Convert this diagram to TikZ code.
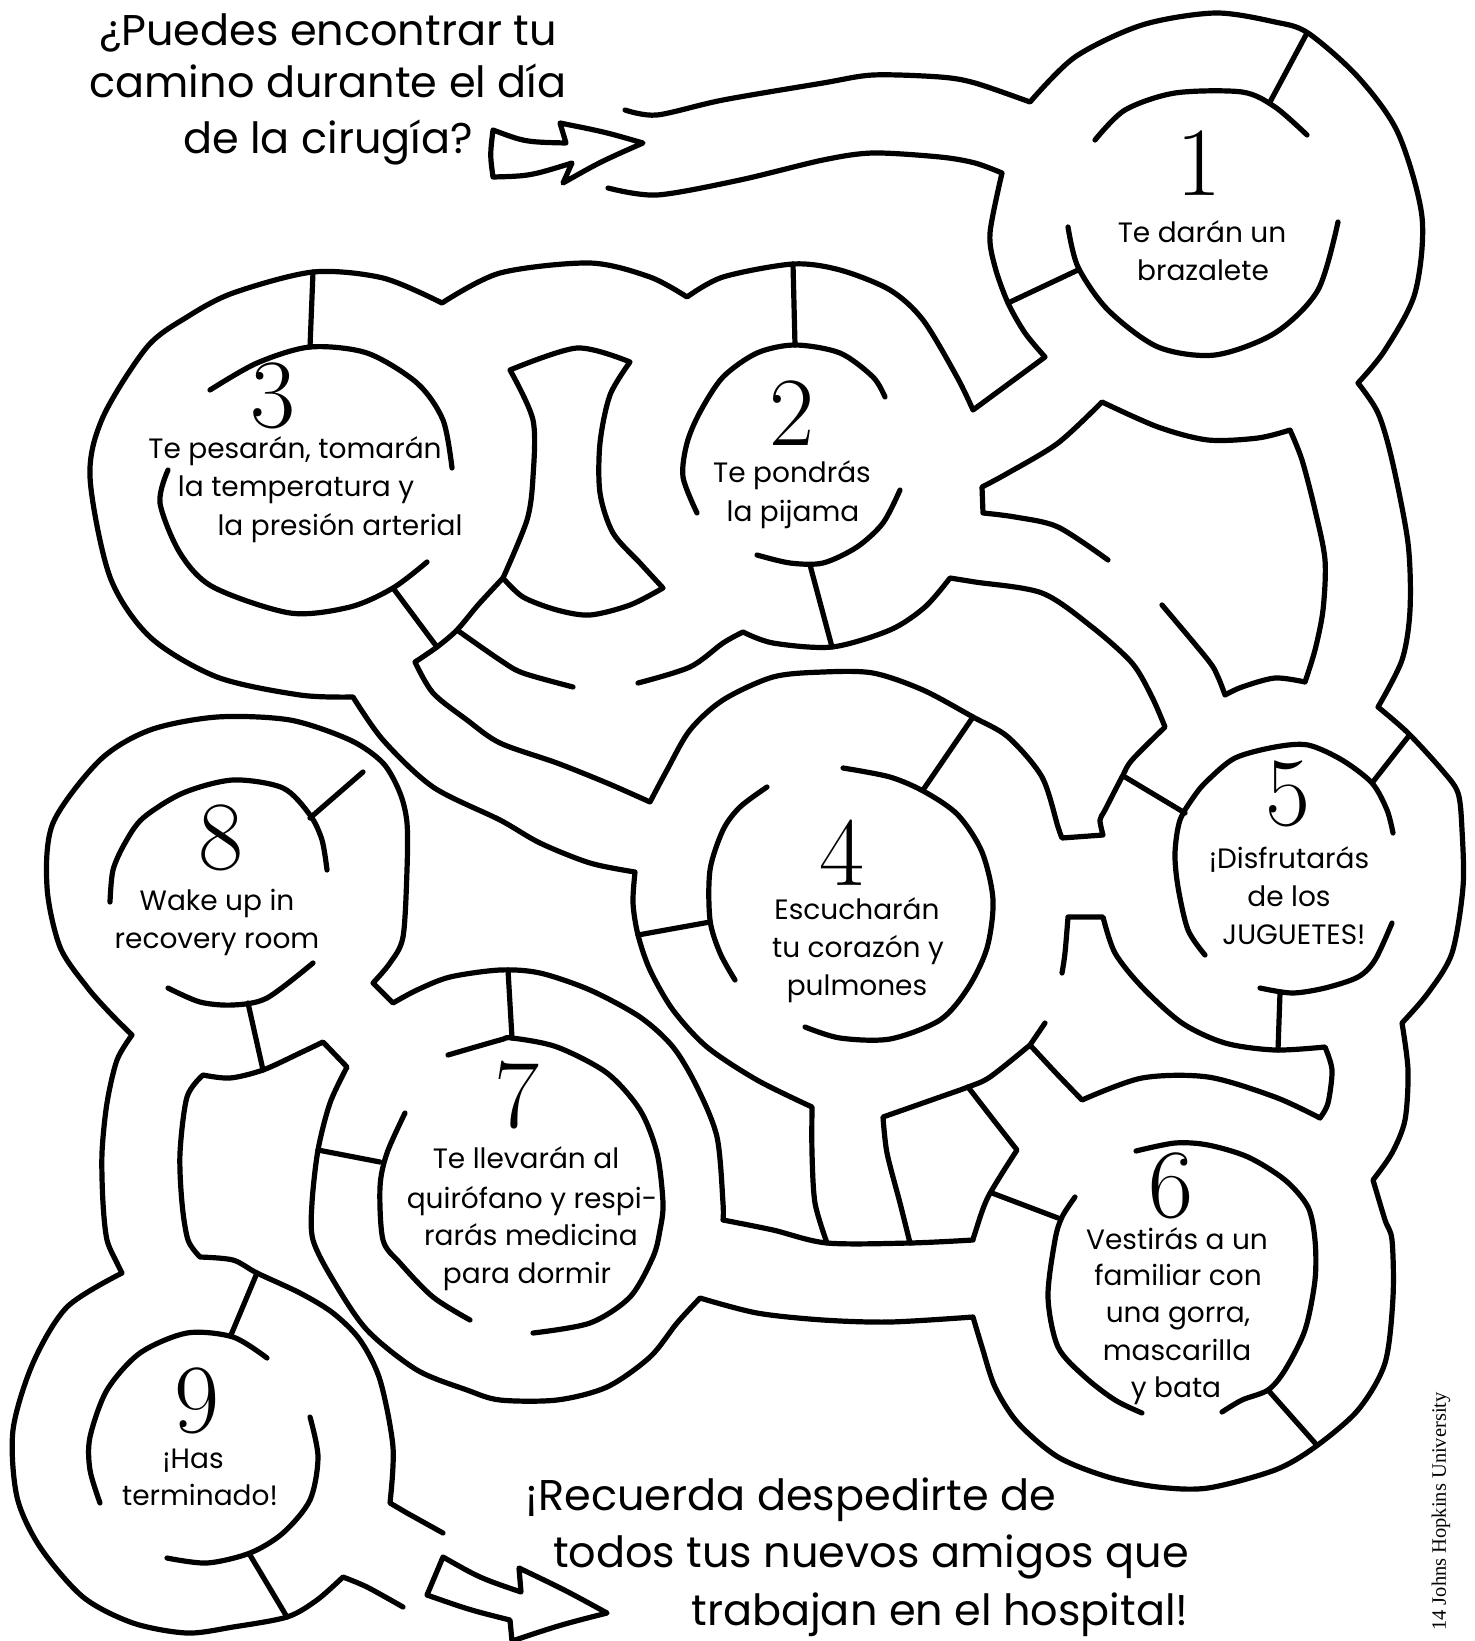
\documentclass[tikz,border=0pt]{standalone}
\usepackage{fontspec}
\newfontfamily\popfont{Poppins}
\newfontfamily\serfont{Liberation Serif}
\begin{document}
\begin{tikzpicture}[x=1pt,y=-1pt,
  wall/.style={line width=5.2pt,line cap=round,line join=round},
  big/.style={font=\popfont\fontsize{43}{50}\selectfont,inner sep=0pt,anchor=base},
  lbl/.style={font=\popfont\fontsize{28}{34}\selectfont,inner sep=0pt,anchor=base},
  num/.style={font=\rmfamily\fontsize{98}{100}\selectfont,inner sep=0pt,anchor=base}]
\fill[white] (0,0) rectangle (1475,1641);
\useasboundingbox (0,0) rectangle (1475,1641);
\begin{scope}
\clip (0,0) rectangle (1475,1641);

% P1
\draw[wall] plot[smooth] coordinates {(625,110) (657,115) (723,100) (823,83) (873,75) (940,77) (975,83) (1030,102)}
 --plot[smooth] coordinates {(1030,102) (1075,57) (1142,25) (1215,13) (1275,22) (1308,33) (1358,77) (1398,133) (1422,217) (1415,293) (1385,350) (1358,383)}
 --plot[smooth] coordinates {(1358,383) (1378,413) (1392,460) (1408,543) (1410,610) (1402,660) (1378,707)}
 --plot[smooth] coordinates {(1378,707) (1408,733) (1442,770) (1458,793) (1462,830) (1463,887) (1452,953) (1428,993) (1402,1023)}
 --plot[smooth] coordinates {(1402,1023) (1408,1070) (1405,1120) (1392,1153) (1373,1180)}
 --plot[smooth] coordinates {(1373,1180) (1385,1220) (1392,1240) (1393,1297) (1385,1363) (1358,1410) (1315,1447) (1275,1470) (1208,1488) (1158,1487) (1108,1477) (1058,1457) (1018,1423) (995,1387) (982,1347) (973,1317)}
 --plot[smooth] coordinates {(973,1317) (890,1322) (823,1320) (757,1313) (700,1298)}
 --plot[smooth] coordinates {(700,1298) (677,1323) (650,1357) (607,1387) (557,1400) (500,1400) (467,1390) (417,1370) (367,1330) (333,1280) (313,1240) (312,1203) (318,1150) (330,1103) (347,1067)}
 -- (323,1042)
 --plot[smooth] coordinates {(323,1042) (300,1053) (263,1070) (230,1078) (203,1075)}
 --plot[smooth] coordinates {(203,1075) (187,1097) (180,1153) (182,1203) (188,1240) (200,1257)}
 --plot[smooth] coordinates {(200,1257) (233,1260) (257,1273) (300,1293) (333,1313) (360,1340) (380,1380) (393,1447) (390,1503)}
 -- (407,1513) -- (443,1533);

% P2
\draw[wall] plot[smooth] coordinates {(608,188) (657,195) (740,180) (823,160) (873,153) (940,157) (975,163) (1002,173)}
 --plot[smooth] coordinates {(1002,173) (990,233) (995,267) (1008,303) (1025,333) (1045,357)}
 -- (973,410)
 --plot[smooth] coordinates {(973,410) (957,377) (923,320) (890,290) (840,270) (793,264) (723,277) (687,297)}
 --plot[smooth] coordinates {(687,297) (650,277) (590,263) (500,273) (442,303)}
 --plot[smooth] coordinates {(442,303) (383,278) (313,272) (233,293) (187,317) (147,347) (103,417) (90,477) (110,577) (150,637) (217,677) (300,695) (353,697)}
 --plot[smooth] coordinates {(353,697) (383,740) (433,787) (500,820) (540,843) (590,863) (635,872)}
 --plot[smooth] coordinates {(635,872) (633,903) (638,935) (650,970) (673,1010) (707,1047) (757,1080) (812,1107)}
 --plot[smooth] coordinates {(812,1107) (812,1153) (815,1203) (827,1243)};

% P3
\draw[wall] plot[smooth] coordinates {(968,1087) (992,1118) (1017,1150)}
 --plot[smooth] coordinates {(1017,1150) (988,1197) (975,1233) (973,1240)}
 --plot[smooth] coordinates {(973,1240) (910,1243) (827,1243) (773,1230) (723,1220)}
 --plot[smooth] coordinates {(723,1220) (723,1203) (717,1137) (697,1087) (673,1047) (640,1017) (590,990) (540,973) (500,970) (450,977) (417,990) (393,1003)}
 -- (373,983)
 --plot[smooth] coordinates {(373,983) (390,963) (403,937) (407,870) (407,823) (400,793) (383,763) (350,740) (290,720) (217,717) (150,730) (100,760) (53,823) (47,887) (60,947) (87,987) (110,1013) (132,1035)}
 --plot[smooth] coordinates {(132,1035) (117,1060) (107,1103) (102,1153) (103,1203) (107,1240) (117,1263) (122,1273)}
 --plot[smooth] coordinates {(122,1273) (67,1307) (33,1363) (13,1430) (17,1497) (40,1547) (83,1597) (133,1623) (187,1633) (233,1627) (287,1617) (317,1600) (343,1577)}
 --plot[smooth] coordinates {(343,1577) (367,1587) (403,1607)};

% P4
\draw[wall] plot[smooth] coordinates {(503,578) (478,605) (457,630) (437,647) (415,662)}
 --plot[smooth] coordinates {(415,662) (433,693) (467,720) (500,743) (557,763) (607,783) (650,802)}
 --plot[smooth] coordinates {(650,802) (667,770) (690,730) (723,700) (773,677) (823,672) (873,673) (923,690) (973,717) (1008,737) (1042,777) (1058,827) (1062,838)}
 -- (1103,835)
 --plot[smooth] coordinates {(1103,835) (1100,820) (1105,810) (1122,777) (1132,760) (1165,727)}
 --plot[smooth] coordinates {(1165,727) (1152,697) (1132,663) (1092,627) (1042,593) (975,582) (950,578)}
 --plot[smooth] coordinates {(950,578) (925,607) (890,630) (832,647) (773,643) (743,632)}
 --plot[smooth] coordinates {(743,632) (723,643) (690,667) (638,683)};

% P5
\draw[wall] plot[smooth] coordinates {(457,630) (500,660) (523,673) (573,687)};

% P6
\draw[wall] plot[smooth] coordinates {(1108,560) (1058,527) (1015,517) (983,513)}
 -- (982,487)
 --plot[smooth] coordinates {(982,487) (1008,473) (1058,443) (1102,402)}
 --plot[smooth] coordinates {(1102,402) (1158,427) (1208,440) (1258,438) (1290,430)}
 --plot[smooth] coordinates {(1290,430) (1302,460) (1315,510) (1325,560) (1323,610) (1315,650) (1305,682)}
 --plot[smooth] coordinates {(1305,682) (1275,678) (1242,687) (1225,695)}
 --plot[smooth] coordinates {(1225,695) (1218,677) (1208,660) (1162,605)};

% P7
\draw[wall] (1045,1023) -- (1030,1045)
 --plot[smooth] coordinates {(1030,1045) (1056,1073) (1082,1100)}
 --plot[smooth] coordinates {(1082,1100) (1142,1078) (1208,1077) (1275,1097) (1320,1118)}
 --plot[smooth] coordinates {(1320,1118) (1328,1103) (1332,1070) (1325,1047)}
 --plot[smooth] coordinates {(1325,1047) (1275,1050) (1225,1043) (1182,1023) (1142,987) (1115,953) (1103,917)}
 -- (1068,917)
 --plot[smooth] coordinates {(1068,917) (1065,953) (1062,973)};

% P8
\draw[wall] plot[smooth] coordinates {(1030,1045) (990,1077) (968,1087) (940,1097) (883,1117)}
 --plot[smooth] coordinates {(883,1117) (887,1153) (900,1203) (910,1243)};

% crescent
\draw[wall] plot[smooth] coordinates {(510,370) (577,348) (630,362)}
 --plot[smooth] coordinates {(630,362) (610,395) (600,443) (600,493) (613,533) (640,563) (663,588)}
 --plot[smooth] coordinates {(663,588) (630,605) (590,615) (557,610) (523,597) (503,578)}
 --plot[smooth] coordinates {(503,578) (527,520) (533,477) (533,420) (510,370)} -- cycle;

% spokes
\draw[wall] (1270,102) -- (1307,33);
\draw[wall] (1078,270) -- (1008,303);
\draw[wall] (793,264) -- (795,345);
\draw[wall] (810,565) -- (832,647);
\draw[wall] (313,272) -- (310,347);
\draw[wall] (393,588) -- (437,647);
\draw[wall] (923,790) -- (973,717);
\draw[wall] (638,935) -- (710,922);
\draw[wall] (1125,777) -- (1185,813);
\draw[wall] (1372,783) -- (1408,737);
\draw[wall] (1280,993) -- (1278,1050);
\draw[wall] (992,1193) -- (1058,1218);
\draw[wall] (1268,1390) -- (1315,1443);
\draw[wall] (508,970) -- (512,1038);
\draw[wall] (318,1150) -- (380,1162);
\draw[wall] (310,818) -- (363,772);
\draw[wall] (248,1003) -- (263,1070);
\draw[wall] (257,1273) -- (231,1335);
\draw[wall] (250,1555) -- (287,1617);

% inner arcs
\draw[wall] plot[smooth] coordinates {(1095,140) (1125,110) (1175,93) (1242,92) (1275,107) (1307,135)};
\draw[wall] plot[smooth] coordinates {(1068,227) (1078,267) (1108,310) (1158,347) (1215,355) (1275,333) (1318,290) (1338,222)};
\draw[wall] plot[smooth] coordinates {(697,513) (683,477) (687,443) (700,412) (723,377) (757,353) (795,345) (840,353) (873,377) (885,397)};
\draw[wall] plot[smooth] coordinates {(900,490) (883,523) (857,547) (823,563) (790,563) (757,555)};
\draw[wall] plot[smooth] coordinates {(210,390) (257,363) (310,347) (367,353) (417,383) (443,420) (452,468)};
\draw[wall] plot[smooth] coordinates {(168,470) (160,503) (180,553) (213,587) (290,613) (350,607) (393,588) (427,562)};
\draw[wall] plot[smooth] coordinates {(767,787) (740,807) (723,830) (710,870) (710,920) (720,953) (735,980)};
\draw[wall] plot[smooth] coordinates {(843,768) (890,777) (925,792) (958,815) (982,852) (993,900) (987,948) (968,988) (940,1020) (890,1039) (840,1038) (805,1027)};
\draw[wall] plot[smooth] coordinates {(1205,955) (1188,930) (1178,887) (1175,853) (1180,820) (1195,795) (1208,780) (1235,758) (1275,747) (1308,745) (1342,760) (1372,783) (1387,810) (1393,833)};
\draw[wall] plot[smooth] coordinates {(1392,923) (1375,960) (1358,977) (1325,988) (1292,993) (1260,988)};
\draw[wall] plot[smooth] coordinates {(1136,1151) (1175,1143) (1208,1145) (1248,1157) (1285,1180) (1308,1207) (1315,1240) (1315,1280) (1305,1330) (1285,1370) (1268,1390) (1242,1400) (1222,1412)};
\draw[wall] plot[smooth] coordinates {(1075,1197) (1062,1217) (1055,1240) (1048,1297) (1058,1347) (1085,1377) (1115,1400) (1142,1413)};
\draw[wall] plot[smooth] coordinates {(448,1055) (500,1040) (512,1038) (557,1047) (607,1073) (640,1110) (657,1153) (663,1203) (660,1230) (653,1257) (630,1297) (590,1323) (533,1333)};
\draw[wall] plot[smooth] coordinates {(405,1113) (387,1153) (380,1187) (383,1240) (400,1263) (433,1297) (470,1320)};
\draw[wall] plot[smooth] coordinates {(110,902) (113,870) (125,843) (143,818) (183,793) (233,780) (283,788) (310,815) (322,840) (327,870)};
\draw[wall] plot[smooth] coordinates {(168,988) (200,1002) (233,1005) (267,998) (313,963)};
\draw[wall] plot[smooth] coordinates {(267,1358) (233,1337) (187,1333) (140,1353) (107,1390) (90,1437) (90,1470) (100,1503)};
\draw[wall] plot[smooth] coordinates {(310,1417) (318,1457) (310,1500) (283,1533) (250,1553) (207,1563) (167,1558)};

% arrows
\draw[wall] (493,130) .. controls (525,142) .. (566,143) -- (560,123) .. controls (605,132) .. (643,143) .. controls (600,162) .. (563,183) -- (572,163) .. controls (530,176) .. (493,177) .. controls (490,155) .. cycle;
\draw[wall] (443,1557) .. controls (480,1578) .. (521,1592) -- (519,1568) .. controls (565,1590) .. (607,1613) .. controls (560,1625) .. (512,1641) -- (510,1620) .. controls (470,1610) .. (427,1595) -- cycle;

% title
\node[big] (ti1) at (328,45) {¿Puedes encontrar tu};
\node[big] (ti2) at (328,97) {camino durante el día};
\node[big] (ti3) at (328,153) {de la cirugía?};
% bottom
\node[big] (bo1) at (791,1510) {¡Recuerda despedirte de};
\node[big] (bo2) at (871,1567) {todos tus nuevos amigos que};
\node[big] (bo3) at (940,1625) {trabajan en el hospital!};

% numbers
\node[num] (n1) at (1199,195) {1};
\node[num] (n2) at (792,445) {2};
\node[num] (n3) at (273,427) {3};
\node[num] (n4) at (842,885) {4};
\node[num] (n5) at (1288,825) {5};
\node[num] (n6) at (1171,1217) {6};
\node[num] (n7) at (517,1127) {7};
\node[num] (n8) at (221,869) {8};
\node[num] (n9) at (197,1432) {9};

% labels
\node[lbl] (c1a) at (1202,242) {Te darán un};
\node[lbl] (c1b) at (1203,280) {brazalete};
\node[lbl] (c2a) at (792,482) {Te pondrás};
\node[lbl] (c2b) at (793,521) {la pijama};
\node[lbl] (c3a) at (295,458) {Te pesarán, tomarán};
\node[lbl] (c3b) at (296,496) {la temperatura y};
\node[lbl] (c3c) at (340,535) {la presión arterial};
\node[lbl] (c4a) at (857,919) {Escucharán};
\node[lbl] (c4b) at (858,957) {tu corazón y};
\node[lbl] (c4c) at (857,995) {pulmones};
\node[lbl] (c5a) at (1289,868) {¡Disfrutarás};
\node[lbl] (c5b) at (1289,906) {de los};
\node[lbl] (c5c) at (1294,944) {JUGUETES!};
\node[lbl] (c6a) at (1177,1249) {Vestirás a un};
\node[lbl] (c6b) at (1178,1285) {familiar con};
\node[lbl] (c6c) at (1178,1322) {una gorra,};
\node[lbl] (c6d) at (1177,1360) {mascarilla};
\node[lbl] (c6e) at (1176,1397) {y bata};
\node[lbl] (c7a) at (526,1168) {Te llevarán al};
\node[lbl] (c7b) at (532,1208) {quirófano y respi-};
\node[lbl] (c7c) at (531,1245) {rarás medicina};
\node[lbl] (c7d) at (527,1283) {para dormir};
\node[lbl] (c8a) at (217,910) {Wake up in};
\node[lbl] (c8b) at (217,948) {recovery room};
\node[lbl] (c9a) at (193,1468) {¡Has};
\node[lbl] (c9b) at (200,1505) {terminado!};

% copyright
\node[font=\serfont\fontsize{20.5}{24}\selectfont,inner sep=0pt,rotate=90,anchor=east] (cr) at (1441,1392) {14 Johns Hopkins University};
\end{scope}
\end{tikzpicture}
\end{document}
